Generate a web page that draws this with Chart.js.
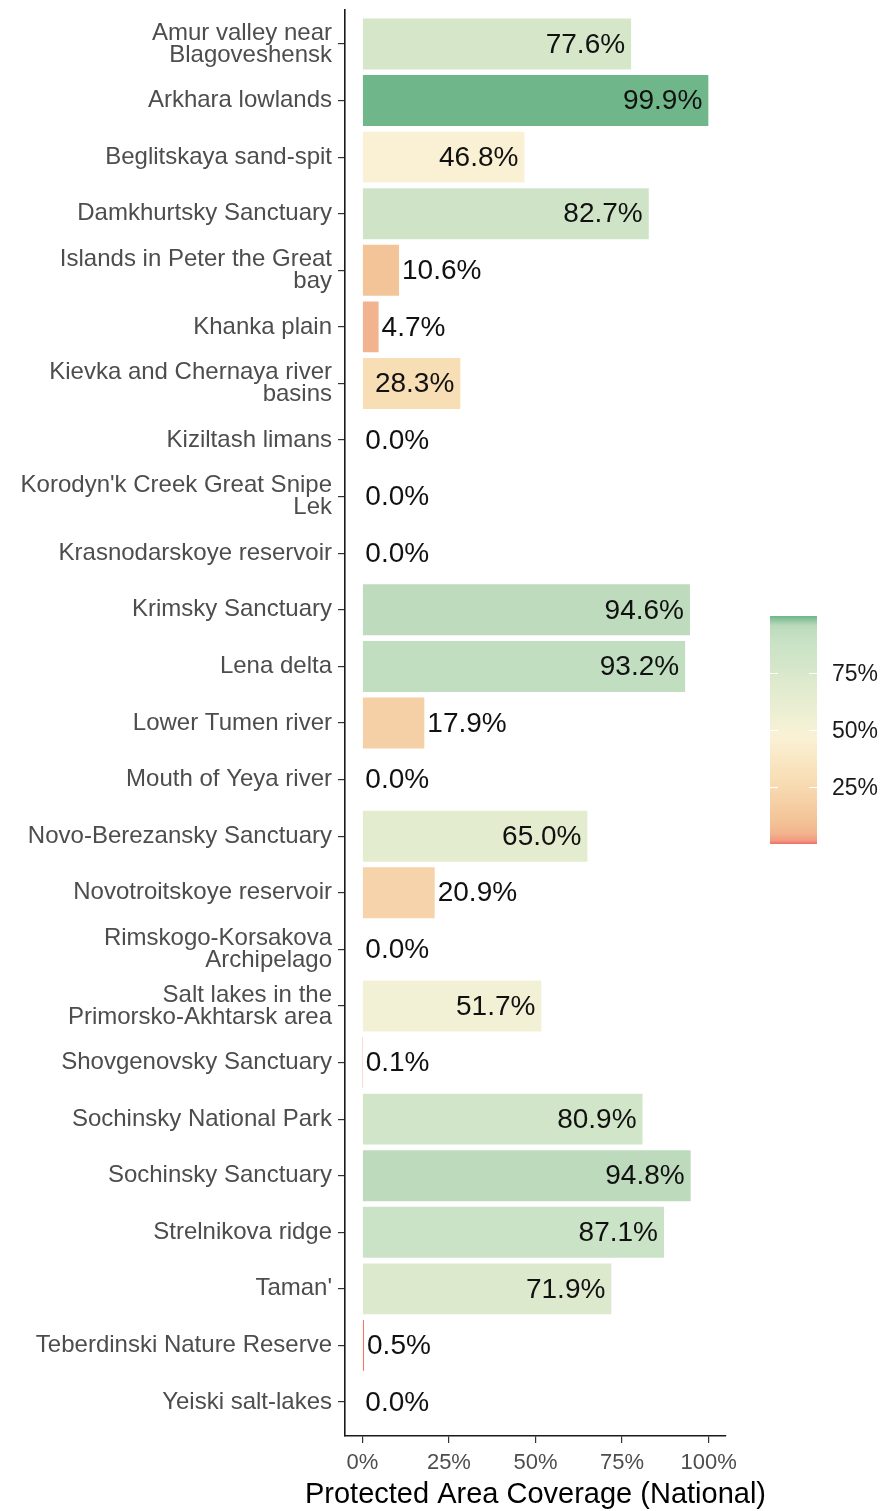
<!DOCTYPE html>
<html>
<head>
<meta charset="utf-8">
<script src="https://cdn.jsdelivr.net/npm/chart.js@4.4.1/dist/chart.umd.min.js"></script>
<style>
  html, body { margin: 0; padding: 0; background: #ffffff; }
  canvas { display: block; }
</style>
</head>
<body>
<canvas id="c" width="884" height="1511" style="width:884px;height:1511px"></canvas>
<script>
// ---------- data ----------
const categories = [
  ["Amur valley near", "Blagoveshensk"],
  "Arkhara lowlands",
  "Beglitskaya sand-spit",
  "Damkhurtsky Sanctuary",
  ["Islands in Peter the Great", "bay"],
  "Khanka plain",
  ["Kievka and Chernaya river", "basins"],
  "Kiziltash limans",
  ["Korodyn'k Creek Great Snipe", "Lek"],
  "Krasnodarskoye reservoir",
  "Krimsky Sanctuary",
  "Lena delta",
  "Lower Tumen river",
  "Mouth of Yeya river",
  "Novo-Berezansky Sanctuary",
  "Novotroitskoye reservoir",
  ["Rimskogo-Korsakova", "Archipelago"],
  ["Salt lakes in the", "Primorsko-Akhtarsk area"],
  "Shovgenovsky Sanctuary",
  "Sochinsky National Park",
  "Sochinsky Sanctuary",
  "Strelnikova ridge",
  "Taman'",
  "Teberdinski Nature Reserve",
  "Yeiski salt-lakes"
];
const coverage = [77.6, 99.9, 46.8, 82.7, 10.6, 4.7, 28.3, 0.0, 0.0, 0.0,
                  94.6, 93.2, 17.9, 0.0, 65.0, 20.9, 0.0, 51.7, 0.1, 80.9,
                  94.8, 87.1, 71.9, 0.5, 0.0];
const xTicks = [0, 25, 50, 75, 100];
const legendTicks = [25, 50, 75];
const xTitle = "Protected Area Coverage (National)";

// ---------- colour scale ----------
const palette = [
  [0,    '#ee6f66'],
  [1.5,  '#f29a80'],
  [4.7,  '#f2b48f'],
  [10.6, '#f3c497'],
  [20,   '#f6d2a9'],
  [28.3, '#f8deb5'],
  [47,   '#faf1d5'],
  [52,   '#f3f1d5'],
  [65,   '#e4ecd0'],
  [72,   '#dde9cd'],
  [78,   '#d4e6c9'],
  [87,   '#cae3c6'],
  [94,   '#c0ddbf'],
  [96,   '#b8d9b8'],
  [100,  '#6db68a']
];
function hex2rgb(h){ return [parseInt(h.slice(1,3),16),parseInt(h.slice(3,5),16),parseInt(h.slice(5,7),16)]; }
function colorFor(v){
  if (v <= palette[0][0]) return palette[0][1];
  for (let i = 1; i < palette.length; i++) {
    if (v <= palette[i][0]) {
      const [a, ca] = palette[i-1], [b, cb] = palette[i];
      const t = (v - a) / (b - a);
      const A = hex2rgb(ca), B = hex2rgb(cb);
      const c = A.map((x, k) => Math.round(x + (B[k] - x) * t));
      return 'rgb(' + c.join(',') + ')';
    }
  }
  return palette[palette.length-1][1];
}

const FONT = '"Liberation Sans", Arial, Helvetica, sans-serif';

// ---------- plugins ----------
const valueLabels = {
  id: 'valueLabels',
  afterDatasetsDraw(chart) {
    const ctx = chart.ctx, xs = chart.scales.x, ys = chart.scales.y;
    ctx.save();
    ctx.font = '28px ' + FONT;
    ctx.fillStyle = '#111111';
    ctx.textBaseline = 'middle';
    coverage.forEach((v, i) => {
      const px = xs.getPixelForValue(v);
      const py = ys.getPixelForValue(i + 1) + 1;
      const txt = v.toFixed(1) + '%';
      if (v >= 25) { ctx.textAlign = 'right'; ctx.fillText(txt, px - 6, py); }
      else { ctx.textAlign = 'left'; ctx.fillText(txt, px + 3, py); }
    });
    ctx.restore();
  }
};

const xTitlePlugin = {
  id: 'xTitlePlugin',
  afterDraw(chart) {
    const ctx = chart.ctx, ca = chart.chartArea;
    ctx.save();
    ctx.font = '29px ' + FONT;
    ctx.fillStyle = '#000000';
    ctx.textAlign = 'center';
    ctx.textBaseline = 'middle';
    ctx.fillText(xTitle, (ca.left + ca.right) / 2, 1495);
    ctx.restore();
  }
};

const colorbar = {
  id: 'colorbar',
  afterDraw(chart) {
    const ctx = chart.ctx;
    const x0 = 770, w = 47, yBottom = 844, yTop = 616;
    const ppu = (yBottom - yTop) / 100;
    ctx.save();
    const g = ctx.createLinearGradient(0, yBottom, 0, yTop);
    palette.forEach(([v, c]) => g.addColorStop(v / 100, c));
    ctx.fillStyle = g;
    ctx.fillRect(x0, yTop, w, yBottom - yTop);
    ctx.strokeStyle = '#ffffff';
    ctx.lineWidth = 1;
    ctx.font = '23px ' + FONT;
    ctx.fillStyle = '#1a1a1a';
    ctx.textAlign = 'left';
    ctx.textBaseline = 'middle';
    legendTicks.forEach(t => {
      const y = Math.round(yBottom - t * ppu) + 0.5;
      ctx.beginPath();
      ctx.moveTo(x0, y); ctx.lineTo(x0 + 8, y);
      ctx.moveTo(x0 + w - 8, y); ctx.lineTo(x0 + w, y);
      ctx.stroke();
      ctx.fillText(t + '%', 832, y + 1);
    });
    ctx.restore();
  }
};

// ---------- chart ----------
new Chart(document.getElementById('c'), {
  type: 'bar',
  data: {
    datasets: [{
      data: coverage.map((v, i) => ({ x: v, y: i + 1 })),
      backgroundColor: coverage.map(colorFor),
      borderWidth: 0,
      categoryPercentage: 0.9,
      barPercentage: 1.0
    }]
  },
  options: {
    indexAxis: 'y',
    responsive: false,
    animation: false,
    devicePixelRatio: 1,
    layout: { padding: { top: 10, right: 158, bottom: 0, left: 0 } },
    plugins: { legend: { display: false }, tooltip: { enabled: false } },
    scales: {
      x: {
        type: 'linear',
        min: -5, max: 105,
        afterBuildTicks: s => { s.ticks = xTicks.map(v => ({ value: v })); },
        afterFit: s => { s.height = 75; s.paddingLeft = 0; s.paddingRight = 0; },
        grid: { display: true, drawOnChartArea: false, drawTicks: true, tickLength: 7, color: '#333333', lineWidth: 1.2 },
        border: { display: true, color: '#1a1a1a', width: 1.6 },
        ticks: {
          callback: v => v + '%',
          font: { family: FONT, size: 22 },
          color: '#4d4d4d',
          padding: 7,
          maxRotation: 0,
          autoSkip: false
        },
        title: { display: false }
      },
      y: {
        type: 'linear',
        reverse: true,
        offset: false,
        min: 0.4, max: 25.6,
        afterBuildTicks: s => { s.ticks = categories.map((c, i) => ({ value: i + 1 })); },
        afterFit: s => { s.width = 345; s.paddingTop = 0; s.paddingBottom = 0; },
        grid: { display: true, offset: false, drawOnChartArea: false, drawTicks: true, tickLength: 7, color: '#333333', lineWidth: 1.2 },
        border: { display: true, color: '#1a1a1a', width: 1.6 },
        ticks: {
          callback: v => categories[Math.round(v) - 1],
          font: { family: FONT, size: 24, lineHeight: 0.92 },
          color: '#4d4d4d',
          padding: 6,
          autoSkip: false
        }
      }
    }
  },
  plugins: [valueLabels, xTitlePlugin, colorbar]
});
</script>
</body>
</html>
